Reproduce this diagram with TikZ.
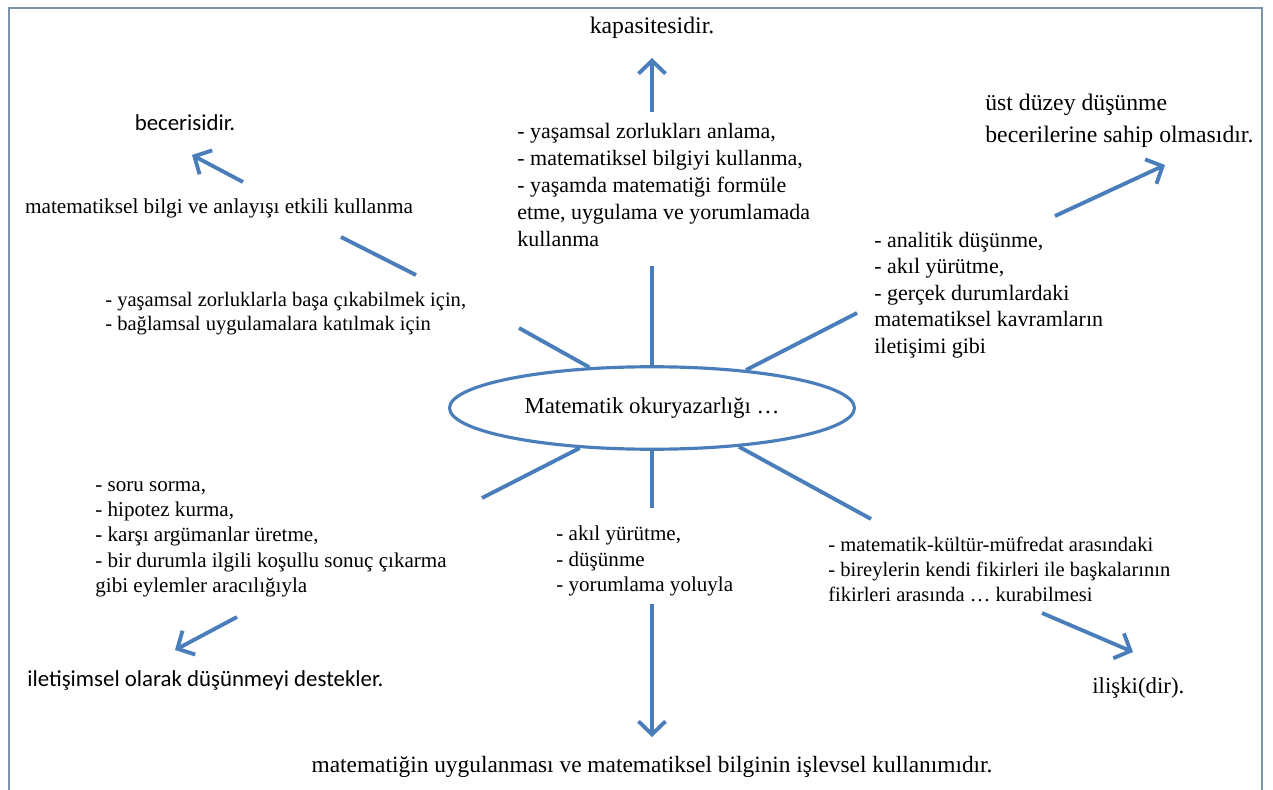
\documentclass[tikz,border=0pt]{standalone}
\usepackage{fontspec}
\setmainfont{Liberation Serif}
\newfontfamily\calibri{Carlito}
\usetikzlibrary{arrows.meta,shapes.geometric,positioning}
\definecolor{kolmavi}{RGB}{74,126,187}
\definecolor{cerceve}{RGB}{125,148,175}

\begin{document}
\begin{tikzpicture}[x=0.02cm,y=-0.02cm,
	  every node/.style={font=\fontsize{12}{14.3}\selectfont},
	  liste/.style={align=left,anchor=north west,inner sep=0pt},
	  sonuc/.style={inner sep=0pt},
	  sans/.style={font=\calibri\fontsize{13}{15}\selectfont},
	  kol/.style={draw=kolmavi,line width=2.2pt},
	  ok/.style={kol,-{Straight Barb[length=2.6mm,width=5.4mm]}}]
	  \useasboundingbox (0,0) rectangle (1273,790);
	  \draw[cerceve,line width=1pt] (9,8) rectangle (1262,800);
	  % merkez
	  \node[ellipse,draw=kolmavi,line width=1.8pt,minimum width=8.1cm,
	    minimum height=1.65cm,font=\fontsize{13}{15}\selectfont] (mo) at (652,408) {Matematik okuryazarlığı …};
	  % metinler
	  \node[sonuc,font=\fontsize{13.5}{15}\selectfont] (kap) at (652,28) {kapasitesidir.};
	  \node[sonuc,sans] (bec) at (185,123) {becerisidir.};
	  \node[sonuc,font=\fontsize{12.1}{14}\selectfont] (etk) at (219,208) {matematiksel bilgi ve anlayışı etkili kullanma};
	  \node[liste,font=\fontsize{11.7}{13.6}\selectfont] (yz) at (105,292) {- yaşamsal zorluklarla başa çıkabilmek için,\\
	    - bağlamsal uygulamalara katılmak için};
	  \node[liste,font=\fontsize{12.5}{15.3}\selectfont] (bilgi) at (517,123) {- yaşamsal zorlukları anlama,\\
	    - matematiksel bilgiyi kullanma,\\ - yaşamda matematiği formüle\\
	    etme, uygulama ve yorumlamada\\ kullanma};
	  \node[liste,font=\fontsize{13.5}{18}\selectfont] (ust) at (985,94) {üst düzey düşünme\\
	    becerilerine sahip olmasıdır.};
	  \node[liste,font=\fontsize{12.5}{15}\selectfont] (anal) at (874,232) {- analitik düşünme,\\ - akıl yürütme,\\
	    - gerçek durumlardaki\\ matematiksel kavramların\\ iletişimi gibi};
	  \node[liste,font=\fontsize{12}{14.4}\selectfont] (soru) at (95,481) {- soru sorma,\\ - hipotez kurma,\\
	    - karşı argümanlar üretme,\\ - bir durumla ilgili koşullu sonuç çıkarma\\
	    gibi eylemler aracılığıyla};
	  \node[liste] (akil) at (556,526) {- akıl yürütme,\\ - düşünme\\ - yorumlama yoluyla};
	  \node[liste,font=\fontsize{11.7}{14.2}\selectfont] (kult) at (828,537) {- matematik-kültür-müfredat arasındaki\\
	    - bireylerin kendi fikirleri ile başkalarının\\ fikirleri arasında … kurabilmesi};
	  \node[sonuc,anchor=west,font=\fontsize{13}{15}\selectfont] (ilis) at (1092,688) {ilişki(dir).};
	  \node[sonuc,sans,anchor=west] (ilet) at (27,680) {iletişimsel olarak düşünmeyi destekler.};
	  \node[sonuc,font=\fontsize{13.3}{15}\selectfont] (uyg) at (652,767) {matematiğin uygulanması ve matematiksel bilginin işlevsel kullanımıdır.};
	  % kollar
	  \coordinate (k1) at (652,266);
	  \coordinate (k2) at (519,328);
	  \coordinate (k3) at (857,313);
	  \coordinate (k4) at (482,498);
	  \coordinate (k5) at (652,508);
	  \coordinate (k6) at (871,519);
	  \draw[kol] (mo.north) -- (k1);
	  \draw[kol] (mo.147) -- (k2);
	  \draw[kol] (mo.22) -- (k3);
	  \draw[kol] (mo.209) -- (k4);
	  \draw[kol] (mo.south) -- (k5);
	  \draw[kol] (mo.336) -- (k6);
	  % oklar
	  \coordinate (a1) at (652,112);
	  \coordinate (b1) at (652,58);
	  \coordinate (a2) at (243,182);
	  \coordinate (b2) at (192,155);
	  \coordinate (a3) at (1055,216);
	  \coordinate (b3) at (1165,165);
	  \coordinate (a4) at (237,617);
	  \coordinate (b4) at (175,650);
	  \coordinate (a5) at (652,604);
	  \coordinate (b5) at (652,737);
	  \coordinate (a6) at (1042,613);
	  \coordinate (b6) at (1133,652);
	  \coordinate (c1) at (416,275);
	  \coordinate (c2) at (341,237);
	  \draw[ok] (a1) -- (b1);
	  \draw[ok] (a2) -- (b2);
	  \draw[ok] (a3) -- (b3);
	  \draw[ok] (a4) -- (b4);
	  \draw[ok] (a5) -- (b5);
	  \draw[ok] (a6) -- (b6);
	  \draw[kol] (c1) -- (c2);
	\end{tikzpicture}
\end{document}
